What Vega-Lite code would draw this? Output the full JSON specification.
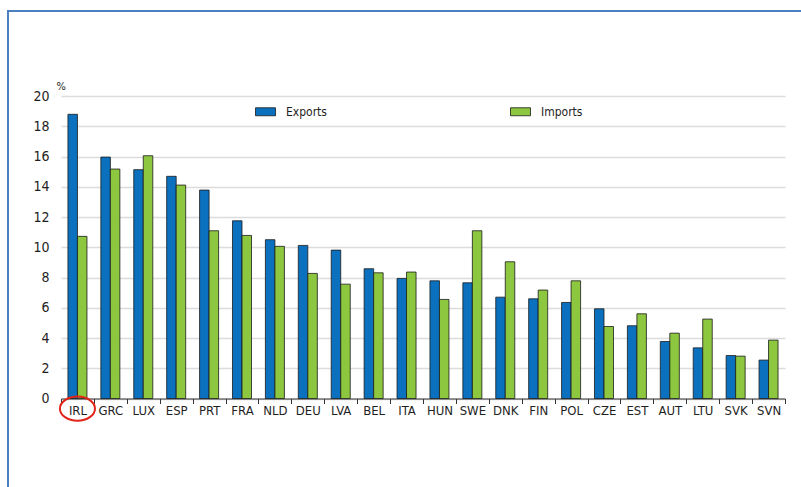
{
  "$schema": "https://vega.github.io/schema/vega-lite/v6.json",
  "width": 810,
  "height": 490,
  "padding": {"left": 8, "top": 11, "right": 0, "bottom": 0},
  "background": "white",
  "config": {
    "font": "DejaVu Sans Condensed, Liberation Sans, sans-serif",
    "view": {"stroke": "#4a7fc1", "strokeWidth": 2},
    "axis": {"labelColor": "#1e1e1e", "titleColor": "#1e1e1e"}
  },
  "datasets": {
    "trade": [
      {"country": "IRL", "flow": "Exports", "value": 18.79},
      {"country": "IRL", "flow": "Imports", "value": 10.72},
      {"country": "GRC", "flow": "Exports", "value": 15.96},
      {"country": "GRC", "flow": "Imports", "value": 15.17},
      {"country": "LUX", "flow": "Exports", "value": 15.13},
      {"country": "LUX", "flow": "Imports", "value": 16.05},
      {"country": "ESP", "flow": "Exports", "value": 14.69},
      {"country": "ESP", "flow": "Imports", "value": 14.11},
      {"country": "PRT", "flow": "Exports", "value": 13.78},
      {"country": "PRT", "flow": "Imports", "value": 11.09},
      {"country": "FRA", "flow": "Exports", "value": 11.75},
      {"country": "FRA", "flow": "Imports", "value": 10.78},
      {"country": "NLD", "flow": "Exports", "value": 10.5},
      {"country": "NLD", "flow": "Imports", "value": 10.06},
      {"country": "DEU", "flow": "Exports", "value": 10.12},
      {"country": "DEU", "flow": "Imports", "value": 8.27},
      {"country": "LVA", "flow": "Exports", "value": 9.81},
      {"country": "LVA", "flow": "Imports", "value": 7.56},
      {"country": "BEL", "flow": "Exports", "value": 8.58},
      {"country": "BEL", "flow": "Imports", "value": 8.31},
      {"country": "ITA", "flow": "Exports", "value": 7.94},
      {"country": "ITA", "flow": "Imports", "value": 8.36},
      {"country": "HUN", "flow": "Exports", "value": 7.78},
      {"country": "HUN", "flow": "Imports", "value": 6.55},
      {"country": "SWE", "flow": "Exports", "value": 7.65},
      {"country": "SWE", "flow": "Imports", "value": 11.09},
      {"country": "DNK", "flow": "Exports", "value": 6.7},
      {"country": "DNK", "flow": "Imports", "value": 9.04},
      {"country": "FIN", "flow": "Exports", "value": 6.59},
      {"country": "FIN", "flow": "Imports", "value": 7.17},
      {"country": "POL", "flow": "Exports", "value": 6.35},
      {"country": "POL", "flow": "Imports", "value": 7.78},
      {"country": "CZE", "flow": "Exports", "value": 5.93},
      {"country": "CZE", "flow": "Imports", "value": 4.76},
      {"country": "EST", "flow": "Exports", "value": 4.81},
      {"country": "EST", "flow": "Imports", "value": 5.6},
      {"country": "AUT", "flow": "Exports", "value": 3.77},
      {"country": "AUT", "flow": "Imports", "value": 4.32},
      {"country": "LTU", "flow": "Exports", "value": 3.35},
      {"country": "LTU", "flow": "Imports", "value": 5.25},
      {"country": "SVK", "flow": "Exports", "value": 2.84},
      {"country": "SVK", "flow": "Imports", "value": 2.8},
      {"country": "SVN", "flow": "Exports", "value": 2.54},
      {"country": "SVN", "flow": "Imports", "value": 3.86}
    ],
    "highlight": [{"country": "IRL", "mark": -0.67}]
  },
  "layer": [
    {
      "data": {"name": "trade"},
      "mark": {"type": "bar", "stroke": "#1a1a1a", "strokeWidth": 0.8},
      "encoding": {
        "x": {
          "field": "country",
          "type": "nominal",
          "sort": ["IRL","GRC","LUX","ESP","PRT","FRA","NLD","DEU","LVA","BEL","ITA","HUN","SWE","DNK","FIN","POL","CZE","EST","AUT","LTU","SVK","SVN"],
          "scale": {"range": [53, 777], "paddingInner": 0, "paddingOuter": 0},
          "axis": {
            "title": null,
            "orient": "bottom",
            "offset": -102.5,
            "labelAngle": 0,
            "labelFontSize": 13,
            "labelPadding": 1,
            "tickBand": "extent",
            "ticks": true,
            "tickSize": 5,
            "tickColor": "#333333",
            "tickWidth": 1,
            "domainColor": "#333333",
            "domainWidth": 1,
            "grid": false
          }
        },
        "xOffset": {
          "field": "flow",
          "type": "nominal",
          "scale": {"paddingInner": 0, "paddingOuter": 0.73}
        },
        "y": {
          "field": "value",
          "type": "quantitative",
          "scale": {"domain": [0, 20], "range": [387.5, 85], "nice": false, "zero": true},
          "axis": {
            "title": "%",
            "titleAngle": 0,
            "titleAlign": "left",
            "titleBaseline": "alphabetic",
            "titleX": -5,
            "titleY": 78,
            "titleFontSize": 11,
            "titleFontWeight": "normal",
            "orient": "left",
            "offset": -53,
            "values": [0, 2, 4, 6, 8, 10, 12, 14, 16, 18, 20],
            "labelFontSize": 14,
            "labelPadding": 12,
            "ticks": false,
            "tickSize": 0,
            "domain": false,
            "grid": true,
            "gridColor": "#dcdcdc",
            "gridWidth": 1.5
          }
        },
        "color": {
          "field": "flow",
          "type": "nominal",
          "scale": {"domain": ["Exports", "Imports"], "range": ["#0b70be", "#8dc63f"]},
          "legend": {
            "title": null,
            "orient": "none",
            "legendX": 247,
            "legendY": 90,
            "direction": "horizontal",
            "columns": 2,
            "columnPadding": 181,
            "padding": 0,
            "symbolType": "M-1,-0.4H1V0.4H-1Z",
            "symbolSize": 400,
            "symbolStrokeColor": "#1a1a1a",
            "symbolStrokeWidth": 0.8,
            "symbolOpacity": 1,
            "labelFontSize": 12,
            "labelOffset": 10,
            "labelColor": "#1e1e1e"
          }
        }
      }
    },
    {
      "data": {"name": "highlight"},
      "mark": {
        "type": "point",
        "shape": "M-1,0A1,0.69 0 1,1 1,0A1,0.69 0 1,1 -1,0Z",
        "size": 1225,
        "filled": false,
        "stroke": "#e2231a",
        "strokeWidth": 2,
        "opacity": 1
      },
      "encoding": {
        "x": {
          "field": "country",
          "type": "nominal",
          "sort": ["IRL","GRC","LUX","ESP","PRT","FRA","NLD","DEU","LVA","BEL","ITA","HUN","SWE","DNK","FIN","POL","CZE","EST","AUT","LTU","SVK","SVN"]
        },
        "y": {"field": "mark", "type": "quantitative"}
      }
    }
  ]
}
